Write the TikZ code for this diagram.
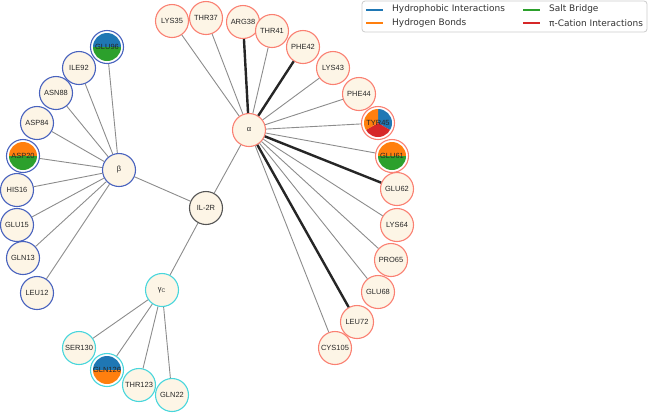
\documentclass[tikz,border=0pt]{standalone}
\usepackage{fontspec}
\setmainfont{Liberation Sans}
\newfontfamily\legendfont{DejaVu Sans}
\usepackage{tikz}
\usetikzlibrary{positioning,calc}
\usepackage{xcolor}
\definecolor{oldlace}{RGB}{253,245,230}
\definecolor{arim}{RGB}{250,128,114}
\definecolor{brim}{RGB}{72,98,190}
\definecolor{grim}{RGB}{72,214,220}
\definecolor{hubrim}{RGB}{85,85,85}
\definecolor{linkgray}{RGB}{140,140,140}
\definecolor{tabblue}{RGB}{31,119,180}
\definecolor{taborange}{RGB}{255,127,14}
\definecolor{tabgreen}{RGB}{44,160,44}
\definecolor{tabred}{RGB}{214,39,40}

\tikzset{
  halves/.style 2 args={fill=white, path picture={
    \coordinate (pc) at (path picture bounding box.center);
    \clip (pc) circle[radius=14];
    \fill[#1] ([xshift=-20bp]pc) rectangle ([xshift=20bp,yshift=20bp]pc);
    \fill[#2] ([xshift=-20bp]pc) rectangle ([xshift=20bp,yshift=-20bp]pc);
  }},
  thirds/.style n args={3}{fill=white, path picture={
    \coordinate (pc) at (path picture bounding box.center);
    \clip (pc) circle[radius=14];
    \fill[#1] (pc) -- ([shift={(90:25bp)}]pc) -- ([shift={(30:25bp)}]pc) -- ([shift={(-30:25bp)}]pc) -- cycle;
    \fill[#2] (pc) -- ([shift={(-30:25bp)}]pc) -- ([shift={(-90:25bp)}]pc) -- ([shift={(-150:25bp)}]pc) -- cycle;
    \fill[#3] (pc) -- ([shift={(-150:25bp)}]pc) -- ([shift={(150:25bp)}]pc) -- ([shift={(90:25bp)}]pc) -- cycle;
  }}
}

\begin{document}
\begin{tikzpicture}[
      x=1bp, y=-1bp,
      res/.style={
        circle, draw, fill=oldlace, line width=1.1bp,
        minimum size=33bp, inner sep=0pt,
        font=\fontsize{7.5}{8}\selectfont, text=black!85
      },
      ares/.style={res, draw=arim},
      bres/.style={res, draw=brim},
      gres/.style={res, draw=grim},
      hub/.style={res, draw=hubrim},
      link/.style={draw=linkgray, line width=0.9bp},
      strong/.style={draw=black!85, line width=2.4bp},
      legendbox/.style={draw=black!20, fill=white, rounded corners=3bp, line width=0.8bp},
      legendtext/.style={anchor=west, inner sep=0pt, font=\legendfont\fontsize{9}{10}\selectfont, text=black!80},
      keyline/.style={line width=2bp}
    ]
      \useasboundingbox (0,0) rectangle (648,413);

      \node[hub] (il2r) at (206,208) {IL-2R};
      \node[ares] (alpha) at (249,130) {α};
      \node[bres] (beta) at (119,170) {β};
      \node[gres] (gammac) at (162,290) {γ\textsubscript{C}};

      \node[ares] (lys35) at (172,21) {LYS35};
      \node[ares] (thr37) at (206,18) {THR37};
      \node[ares] (arg38) at (243,22) {ARG38};
      \node[ares] (thr41) at (272,31) {THR41};
      \node[ares] (phe42) at (303,47) {PHE42};
      \node[ares] (lys43) at (333,68) {LYS43};
      \node[ares] (phe44) at (359,94) {PHE44};
      \node[ares, thirds={tabblue}{tabred}{taborange}] (tyr45) at (378,123) {TYR45};
      \node[ares, halves={taborange}{tabgreen}] (glu61) at (392,156) {GLU61};
      \node[ares] (glu62) at (397,189) {GLU62};
      \node[ares] (lys64) at (397,225) {LYS64};
      \node[ares] (pro65) at (391,260) {PRO65};
      \node[ares] (glu68) at (378,292) {GLU68};
      \node[ares] (leu72) at (357,322) {LEU72};
      \node[ares] (cys105) at (335,348) {CYS105};

      \node[bres, halves={tabblue}{tabgreen}] (glu96) at (107,47) {GLU96};
      \node[bres] (ile92) at (79,68) {ILE92};
      \node[bres] (asn88) at (56,93) {ASN88};
      \node[bres] (asp84) at (37,123) {ASP84};
      \node[bres, halves={taborange}{tabgreen}] (asp20) at (23,156) {ASP20};
      \node[bres] (his16) at (17,190) {HIS16};
      \node[bres] (glu15) at (17,225) {GLU15};
      \node[bres] (gln13) at (23,258) {GLN13};
      \node[bres] (leu12) at (37,293) {LEU12};

      \node[gres] (ser130) at (79,348) {SER130};
      \node[gres, halves={tabblue}{taborange}] (gln126) at (107,370) {GLN126};
      \node[gres] (thr123) at (139,385) {THR123};
      \node[gres] (gln22) at (172,395) {GLN22};

      \draw[link] (il2r) -- (alpha) (il2r) -- (beta) (il2r) -- (gammac);
      \draw[link] (alpha) -- (lys35) (alpha) -- (thr37) (alpha) -- (thr41)
        (alpha) -- (lys43) (alpha) -- (phe44) (alpha) -- (tyr45) (alpha) -- (glu61)
        (alpha) -- (lys64) (alpha) -- (pro65) (alpha) -- (glu68) (alpha) -- (cys105);
      \draw[strong] (alpha) -- (arg38) (alpha) -- (phe42) (alpha) -- (glu62) (alpha) -- (leu72);
      \draw[link] (beta) -- (glu96) (beta) -- (ile92) (beta) -- (asn88) (beta) -- (asp84)
        (beta) -- (asp20) (beta) -- (his16) (beta) -- (glu15) (beta) -- (gln13) (beta) -- (leu12);
      \draw[link] (gammac) -- (ser130) (gammac) -- (gln126) (gammac) -- (thr123) (gammac) -- (gln22);

      \draw[legendbox] (362,1) rectangle (647,32);
      \node[legendtext] (hyd) at (392,9.5) {Hydrophobic Interactions};
      \node[legendtext] (hbond) at (392,23) {Hydrogen Bonds};
      \node[legendtext] (salt) at (549,9.5) {Salt Bridge};
      \node[legendtext] (cation) at (549,23) {π-Cation Interactions};
      \draw[keyline, draw=tabblue] ([xshift=-26bp]hyd.west) -- ([xshift=-9bp]hyd.west);
      \draw[keyline, draw=taborange] ([xshift=-26bp]hbond.west) -- ([xshift=-9bp]hbond.west);
      \draw[keyline, draw=tabgreen] ([xshift=-26bp]salt.west) -- ([xshift=-9bp]salt.west);
      \draw[keyline, draw=tabred] ([xshift=-26bp]cation.west) -- ([xshift=-9bp]cation.west);
    \end{tikzpicture}
\end{document}
